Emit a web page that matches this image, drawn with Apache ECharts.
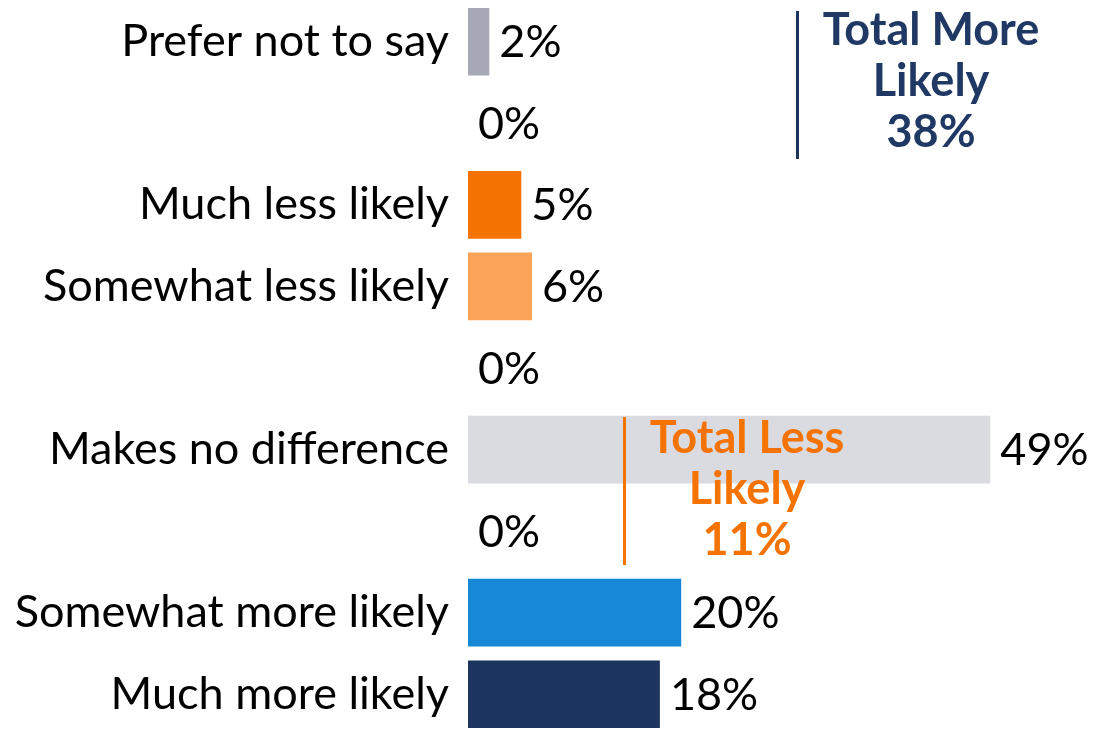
<!DOCTYPE html>
<html>
<head>
<meta charset="utf-8">
<script src="https://cdn.jsdelivr.net/npm/echarts@6/dist/echarts.min.js"></script>
<style>html,body{margin:0;padding:0;background:#fff}#c{width:1096px;height:735px}</style>
</head>
<body>
<div id="c"></div>
<script>
var categories = ['Prefer not to say', ' ', 'Much less likely', 'Somewhat less likely', '  ', 'Makes no difference', '   ', 'Somewhat more likely', 'Much more likely'];
var values = [2, 0, 5, 6, 0, 49, 0, 20, 18];
var barColors = ['#A7A8B6', '#FBD9BC', '#F57303', '#FBA357', '#CFE4F5', '#DADBE0', '#CFE4F5', '#1788D6', '#1C355E'];
var totalMoreLines = ['Total More', 'Likely', '38%'];
var totalLessLines = ['Total Less', 'Likely', '11%'];

var FONT = 'Lato';
var chart = echarts.init(document.getElementById('c'));
chart.setOption({
  animation: false,
  grid: { left: 468, top: 1, width: 533, height: 738, containLabel: false },
  xAxis: { type: 'value', min: 0, max: 50, show: false },
  yAxis: {
    type: 'category', inverse: true, data: categories,
    axisLine: { show: false }, axisTick: { show: false },
    axisLabel: { color: '#000', fontFamily: FONT, fontSize: 45, margin: 19, padding: [4, 0, 0, 0] }
  },
  series: [{
    type: 'bar',
    data: values.map(function (v, i) { return { value: v, itemStyle: { color: barColors[i] } }; }),
    barCategoryGap: '17%',
    label: {
      show: true, position: 'right', distance: 10, offset: [0, 1],
      formatter: '{c}%', color: '#000', fontFamily: FONT, fontSize: 45
    }
  }],
  graphic: [
    { type: 'rect', z: 100, shape: { x: 796, y: 11, width: 3, height: 148 }, style: { fill: '#1C355E' } },
    { type: 'text', z: 100, style: {
        x: 931, y: 5, text: totalMoreLines.join('\n'), textAlign: 'center', textVerticalAlign: 'top',
        font: 'bold 45px ' + FONT, fill: '#1F3864', lineHeight: 51 } },
    { type: 'rect', z: 100, shape: { x: 623, y: 417, width: 3, height: 148 }, style: { fill: '#F57303' } },
    { type: 'text', z: 100, style: {
        x: 747, y: 413, text: totalLessLines.join('\n'), textAlign: 'center', textVerticalAlign: 'top',
        font: 'bold 45px ' + FONT, fill: '#F57303', lineHeight: 51 } }
  ]
});
</script>
</body>
</html>
